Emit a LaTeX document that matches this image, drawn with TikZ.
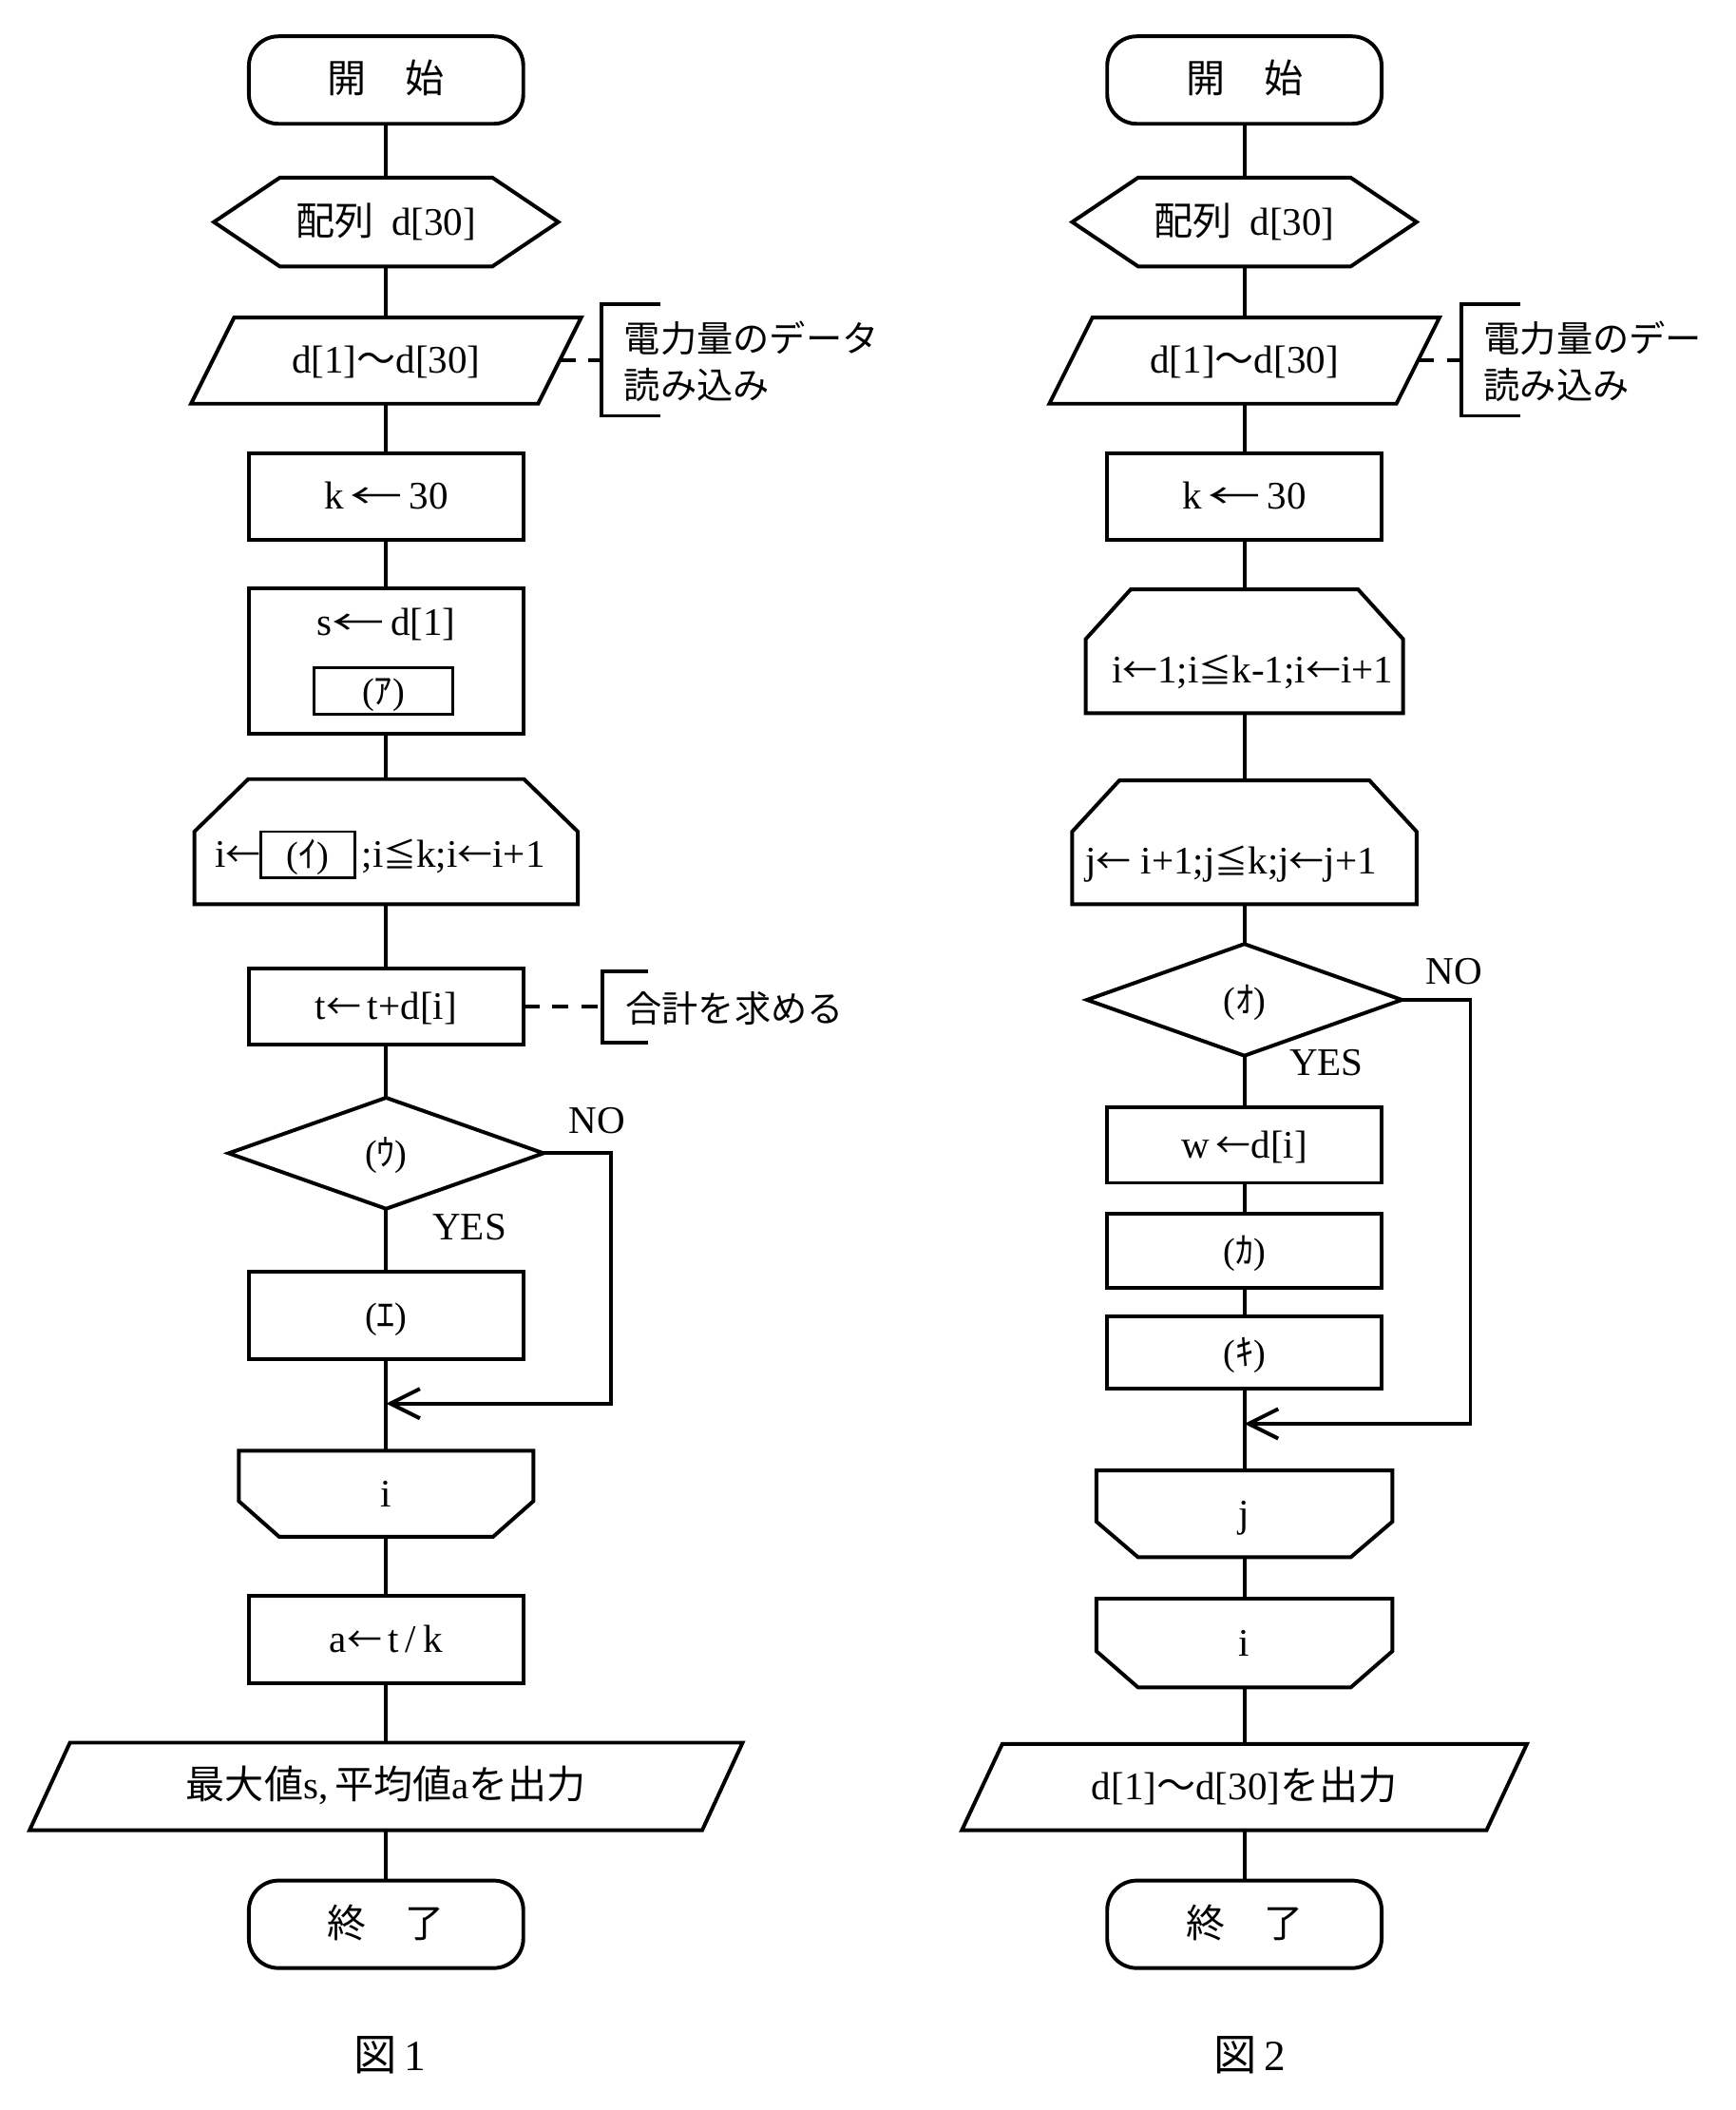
\documentclass[tikz,border=0pt]{standalone}
\usepackage{fontspec}
\setmainfont{Liberation Serif}
\newfontfamily\jpfont{Noto Sans CJK JP}
\usetikzlibrary{calc,arrows.meta}
\newcommand\jt[1]{{\jpfont #1}}
\newcommand\fsz{\fontsize{29}{34}\selectfont}
\newcommand\klab[1]{{\fontsize{27}{30}\selectfont(\jt{#1})}}
\newcommand\myla{{\jpfont\fontsize{26}{30}\selectfont ←}}
\newcommand\mylla{\scalebox{1.5}[1]{\myla}}
\newcommand\myle{\scalebox{0.85}{\jt{≦}}}
\newcommand\hexshape[2]{\draw (#1.west) -- ($(#1.north west)+(#2,0)$) -- ($(#1.north east)+(-#2,0)$) -- (#1.east) -- ($(#1.south east)+(-#2,0)$) -- ($(#1.south west)+(#2,0)$) -- cycle;}
\newcommand\parashape[2]{\draw ($(#1.north west)+(#2,0)$) -- (#1.north east) -- ($(#1.south east)+(-#2,0)$) -- (#1.south west) -- cycle;}
\newcommand\loopopen[3]{\draw ($(#1.north west)+(#2,0)$) -- ($(#1.north east)+(-#2,0)$) -- ($(#1.north east)+(0,#3)$) -- (#1.south east) -- (#1.south west) -- ($(#1.north west)+(0,#3)$) -- cycle;}
\newcommand\loopclose[3]{\draw (#1.north west) -- (#1.north east) -- ($(#1.south east)+(0,-#3)$) -- ($(#1.south east)+(-#2,0)$) -- ($(#1.south west)+(#2,0)$) -- ($(#1.south west)+(0,-#3)$) -- cycle;}
\newcommand\diashape[1]{\draw (#1.north) -- (#1.east) -- (#1.south) -- (#1.west) -- cycle;}
\tikzset{
  bx/.style={font=\fsz, text height=22pt, text depth=3pt, inner sep=0pt, outer sep=0pt},
  proc/.style={bx, draw, minimum width=204pt, minimum height=#1},
  proc/.default=64pt,
  term/.style={bx, draw, rounded corners=22pt, minimum width=204pt, minimum height=65pt},
  inner/.style={bx, draw, line width=2pt},
  note/.style={anchor=west, align=left, inner sep=0pt, outer sep=0pt, font=\fontsize{27}{35}\selectfont},
  dsh/.style={dash pattern=on 12pt off 9.5pt},
  flow/.style={-{Straight Barb[length=22pt,width=22pt]}}
}
\begin{document}
\begin{tikzpicture}[x=1pt,y=-1pt,line width=2.8pt]
\fill[white] (0,0) rectangle (1290,1568);
\useasboundingbox (0,0) rectangle (1290,1568);
% ---------------- Figure 1 ----------------
\node[term] (startL) at (287,59.5) {\jt{開　始}};
\node[bx, minimum width=256pt, minimum height=66pt] (hexL) at (287,165) {\jt{配列}\hspace{0.45em}d[30]};
\node[bx, minimum width=290pt, minimum height=64pt] (inL) at (287,268) {d[1]\jt{～}d[30]};
\node[proc=64pt] (kL) at (287,369) {k\,\mylla\,30};
\node[proc=108pt] (sL) at (287,491) {};
\node[bx] (sLt) at (287,463) {s\mylla\,d[1]};
\node[inner, minimum width=103pt, minimum height=35pt] (aBox) at (285,513.5) {\klab{ｱ}};
\node[bx, minimum width=285pt, minimum height=93pt] (loopL) at (287,625.5) {};
\node[inner, minimum width=70pt, minimum height=34pt] (iBox) at (229,635) {\klab{ｲ}};
\node[bx, anchor=east] (iPre) at (iBox.west) {i\myla};
\node[bx, anchor=west] (iPost) at (iBox.east) {\,;i\myle k;i\myla i+1};
\node[proc=56pt] (tL) at (287,748) {t\myla\,t+d[i]};
\node[bx, minimum width=234pt, minimum height=82.5pt] (diaU) at (287,857) {\klab{ｳ}};
\node[proc=65pt] (eL) at (287,977.5) {\klab{ｴ}};
\node[bx, minimum width=219pt, minimum height=64pt] (endIL) at (287,1110) {i};
\node[proc=65pt] (aL) at (287,1218.5) {a\myla\,t\,/\,k};
\node[bx, minimum width=530pt, minimum height=65pt] (outL) at (287,1327.5) {\jt{最大値}s,\,\jt{平均値}a\jt{を出力}};
\node[term] (endL) at (287,1430) {\jt{終　了}};
\node[font=\fontsize{32}{36}\selectfont, inner sep=0pt] (fig1) at (290,1527) {\jt{図}\,1};
\node[bx] (noU) at (444,833) {NO};
\node[bx] (yesU) at (349,912) {YES};

\hexshape{hexL}{49}
\parashape{inL}{32}
\loopopen{loopL}{40}{39}
\diashape{diaU}
\loopclose{endIL}{30}{26.5}
\parashape{outL}{30}

\draw (startL.south) -- (hexL.north);
\draw (hexL.south) -- (inL.north);
\draw (inL.south) -- (kL.north);
\draw (kL.south) -- (sL.north);
\draw (sL.south) -- (loopL.north);
\draw (loopL.south) -- (tL.north);
\draw (tL.south) -- (diaU.north);
\draw (diaU.south) -- (eL.north);
\draw (eL.south) -- (endIL.north);
\draw (endIL.south) -- (aL.north);
\draw (aL.south) -- (outL.north);
\draw (outL.south) -- (endL.north);

\coordinate (nU1) at (454,857);
\coordinate (nU2) at (454,1043);
\coordinate (jU) at (287,1043);
\draw[flow] (diaU.east) -- (nU1) -- (nU2) -- (jU);

% annotations fig 1
\coordinate (inLr) at ($(inL.east)+(-16,0)$);
\coordinate (brL) at (447,268);
\draw[dsh] (inLr) -- (brL);
\draw ($(brL)+(44,-42)$) -- ($(brL)+(0,-42)$) -- ($(brL)+(0,41)$) -- ($(brL)+(44,41)$);
\node[note] (noteL) at (464,268.5) {\jt{電力量のデータ}\\\jt{読み込み}};

\coordinate (brT) at (448,748);
\draw[dsh] (tL.east) -- (brT);
\draw ($(brT)+(34,-26.5)$) -- ($(brT)+(0,-26.5)$) -- ($(brT)+(0,27)$) -- ($(brT)+(34,27)$);
\node[note] (noteT) at (465,749.5) {\jt{合計を求める}};

% ---------------- Figure 2 ----------------
\node[term] (startR) at (925,59.5) {\jt{開　始}};
\node[bx, minimum width=256pt, minimum height=66pt] (hexR) at (925,165) {\jt{配列}\hspace{0.45em}d[30]};
\node[bx, minimum width=290pt, minimum height=64pt] (inR) at (925,268) {d[1]\jt{～}d[30]};
\node[proc=64pt] (kR) at (925,369) {k\,\mylla\,30};
\node[bx, minimum width=236pt, minimum height=92pt] (loopIR) at (925,484) {};
\node[bx] (loopIRt) at (931,498) {i\myla 1;i\myle k-1;i\myla i+1};
\node[bx, minimum width=256pt, minimum height=92pt] (loopJR) at (925,626) {};
\node[bx] (loopJRt) at (915,640) {j\myla\ i+1;j\myle k;j\myla j+1};
\node[bx, minimum width=234pt, minimum height=83pt] (diaO) at (925,743) {\klab{ｵ}};
\node[proc=56pt] (wR) at (925,851) {w\,\myla d[i]};
\node[proc=55pt] (kaR) at (925,929.5) {\klab{ｶ}};
\node[proc=54pt] (kiR) at (925,1005) {\klab{ｷ}};
\node[bx, minimum width=220pt, minimum height=64.5pt] (endJR) at (925,1125) {j};
\node[bx, minimum width=220pt, minimum height=66pt] (endIR) at (925,1221) {i};
\node[bx, minimum width=420pt, minimum height=64pt] (outR) at (925,1328) {d[1]\jt{～}d[30]\jt{を出力}};
\node[term] (endR) at (925,1430) {\jt{終　了}};
\node[font=\fontsize{32}{36}\selectfont, inner sep=0pt] (fig2) at (929,1527) {\jt{図}\,2};
\node[bx] (noO) at (1081,722) {NO};
\node[bx] (yesO) at (986,790) {YES};

\hexshape{hexR}{49}
\parashape{inR}{32}
\loopopen{loopIR}{33.5}{37}
\loopopen{loopJR}{35}{38}
\diashape{diaO}
\loopclose{endJR}{31}{26.5}
\loopclose{endIR}{31}{27}
\parashape{outR}{30}

\draw (startR.south) -- (hexR.north);
\draw (hexR.south) -- (inR.north);
\draw (inR.south) -- (kR.north);
\draw (kR.south) -- (loopIR.north);
\draw (loopIR.south) -- (loopJR.north);
\draw (loopJR.south) -- (diaO.north);
\draw (diaO.south) -- (wR.north);
\draw (wR.south) -- (kaR.north);
\draw (kaR.south) -- (kiR.north);
\draw (kiR.south) -- (endJR.north);
\draw (endJR.south) -- (endIR.north);
\draw (endIR.south) -- (outR.north);
\draw (outR.south) -- (endR.north);

\coordinate (nO1) at (1093,743);
\coordinate (nO2) at (1093,1058);
\coordinate (jO) at (925,1058);
\draw[flow] (diaO.east) -- (nO1) -- (nO2) -- (jO);

\coordinate (inRr) at ($(inR.east)+(-16,0)$);
\coordinate (brR) at (1086,268);
\draw[dsh] (inRr) -- (brR);
\draw ($(brR)+(44,-42)$) -- ($(brR)+(0,-42)$) -- ($(brR)+(0,41)$) -- ($(brR)+(44,41)$);
\node[note] (noteR) at (1103,268.5) {\jt{電力量のデー}\\\jt{読み込み}};
\end{tikzpicture}
\end{document}
